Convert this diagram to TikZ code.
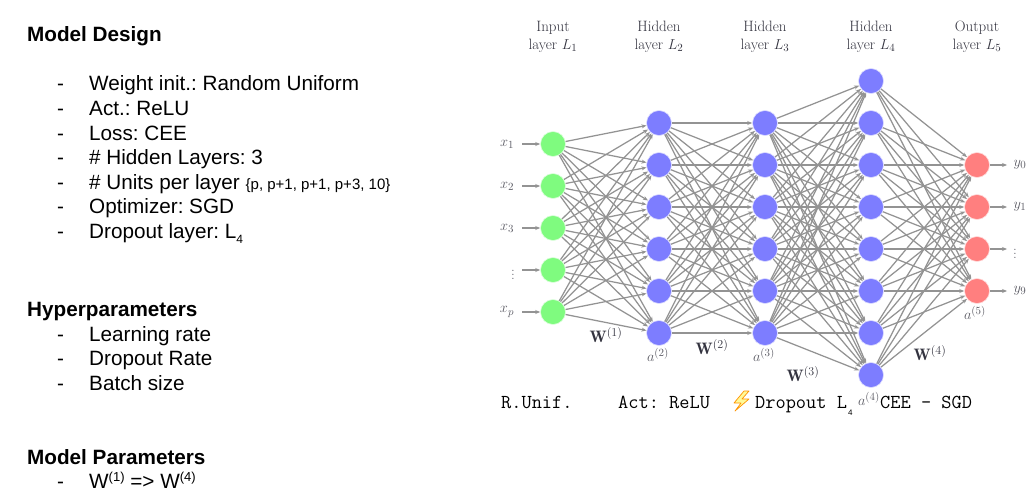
\documentclass[tikz,border=0pt]{standalone}
\usepackage{fontspec}
\usepackage{amsmath}
\usetikzlibrary{arrows.meta}
\newfontfamily\arialf{Liberation Sans}
\AtBeginDocument{\frenchspacing}
\definecolor{nnblue}{HTML}{7D7DFF}
\definecolor{nngreen}{HTML}{7FFB7F}
\definecolor{nnred}{HTML}{FF7F7F}
\definecolor{edgegray}{HTML}{939393}
\definecolor{nntext}{HTML}{33333F}
\tikzset{
  unit/.style={circle,draw=white!75!#1,line width=0.6pt,fill=#1,minimum size=25pt,inner sep=0pt},
  link/.style={draw=edgegray,line width=1.25pt,-{Stealth[length=5pt,width=4pt]}},
  head/.style={anchor=base west,inner sep=0pt,font=\arialf\bfseries\fontsize{20.7}{23}\selectfont},
  item/.style={anchor=base west,inner sep=0pt,font=\arialf\fontsize{20.7}{23}\selectfont},
  nnlabel/.style={inner sep=0pt,text=nntext,font=\fontsize{15}{18}\selectfont,align=center},
  nnmath/.style={inner sep=0pt,text=nntext!80!white,font=\fontsize{15}{18}\selectfont},
  wlabel/.style={inner sep=0pt,text=nntext,font=\fontsize{16.6}{19}\selectfont},
  mono/.style={anchor=base west,inner sep=0pt,font=\ttfamily\fontsize{19.8}{22}\selectfont}
}
\begin{document}
\begin{tikzpicture}[x=1pt,y=-1pt]
\useasboundingbox (0,0) rectangle (1035,498);
% left text
\node[head] (t1) at (27,41) {Model Design};
\foreach \n/\y/\t in {a/90/{Weight init.: Random Uniform},b/115/{Act.: ReLU},c/140/{Loss: CEE},d/164/{\# Hidden Layers: 3},f/213/{Optimizer: SGD}}{
  \node[item] (d\n) at (57,\y) {-};
  \node[item] (i\n) at (89,\y) {\t};
}
\node[item] (de) at (57,189) {-};
\node[item] (ie) at (89,189) {\# Units per layer {\fontsize{15}{17}\selectfont\{p, p+1, p+1, p+3, 10\}}};
\node[item] (dg) at (57,238) {-};
\node[item] (ig) at (89,238) {Dropout layer: L\raisebox{-5pt}{\fontsize{12}{14}\selectfont 4}};
\node[head] (t2) at (27,316) {Hyperparameters};
\foreach \n/\y/\t in {h/341/{Learning rate},j/365/{Dropout Rate},k/390/{Batch size}}{
  \node[item] (d\n) at (57,\y) {-};
  \node[item] (i\n) at (89,\y) {\t};
}
\node[head] (t3) at (27,464) {Model Parameters};
\node[item] (dm) at (57,488) {-};
\node[item] (im) at (89,488) {W\raisebox{7pt}{\fontsize{13}{15}\selectfont (1)} => W\raisebox{7pt}{\fontsize{13}{15}\selectfont (4)}};
% headers
\node[nnlabel] (h1) at (553,37) {Input\\layer $L_1$};
\node[nnlabel] (h2) at (659,37) {Hidden\\layer $L_2$};
\node[nnlabel] (h3) at (765,37) {Hidden\\layer $L_3$};
\node[nnlabel] (h4) at (871,37) {Hidden\\layer $L_4$};
\node[nnlabel] (h5) at (977,37) {Output\\layer $L_5$};
% units
\foreach \i/\y in {1/144,2/186,3/228,4/270,5/312} \node[unit=nngreen] (A\i) at (553,\y) {};
\foreach \i/\y in {1/123,2/165,3/207,4/249,5/291,6/333} {
  \node[unit=nnblue] (B\i) at (659,\y) {};
  \node[unit=nnblue] (C\i) at (765,\y) {};
}
\foreach \i/\y in {1/81,2/123,3/165,4/207,5/249,6/291,7/333,8/375} \node[unit=nnblue] (D\i) at (871,\y) {};
\foreach \i/\y in {1/165,2/207,3/249,4/291} \node[unit=nnred] (E\i) at (977,\y) {};
% links
\foreach \i in {1,...,5} \foreach \j in {1,...,6} \draw[link] (A\i) -- (B\j);
\foreach \i in {1,...,6} \foreach \j in {1,...,6} \draw[link] (B\i) -- (C\j);
\foreach \i in {1,...,6} \foreach \j in {1,...,8} \draw[link] (C\i) -- (D\j);
\foreach \i in {1,...,8} \foreach \j in {1,...,4} \draw[link] (D\i) -- (E\j);
% inputs
\foreach \i/\y/\t in {1/144/x_1,2/186/x_2,3/228/x_3,5/312/x_p}{
  \node[nnmath] (x\i) at (507,\y) {$\t$};
  \coordinate (xs\i) at (522,\y);
  \draw[link] (xs\i) -- (A\i);
}
\node[nnmath] (x4) at (513,272) {$\vdots$};
\coordinate (xs4) at (522,270);
\draw[link] (xs4) -- (A4);
% outputs
\foreach \i/\y/\t in {1/165/y_0,2/207/y_1,4/291/y_9}{
  \node[nnmath] (y\i) at (1020,\y) {$\t$};
  \coordinate (ye\i) at (1007,\y);
  \draw[link] (E\i) -- (ye\i);
}
\node[nnmath] (y3) at (1015,251) {$\vdots$};
\coordinate (ye3) at (1007,249);
\draw[link] (E3) -- (ye3);
% annotations
\node[nnmath] (a2) at (658,355) {$a^{(2)}$};
\node[nnmath] (a3) at (764,355) {$a^{(3)}$};
\node[nnmath] (a4) at (869,399) {$a^{(4)}$};
\node[nnmath] (a5) at (975,313) {$a^{(5)}$};
\node[wlabel] (w1) at (606,335) {$\mathbf{W}^{(1)}$};
\node[wlabel] (w2) at (712,347) {$\mathbf{W}^{(2)}$};
\node[wlabel] (w3) at (803,374) {$\mathbf{W}^{(3)}$};
\node[wlabel] (w4) at (930,353) {$\mathbf{W}^{(4)}$};
% bottom line
\node[mono] (m1) at (501,408) {R.Unif.};
\node[mono] (m2) at (618,408) {Act: ReLU};
\node[mono] (m3) at (755,408) {Dropout L};
\node[inner sep=0pt,anchor=base west,font=\arialf\fontsize{8}{9}\selectfont] (m4) at (848,415) {4};
\node[mono] (m5) at (880,408) {CEE - SGD};
\filldraw[draw=orange!85!yellow,fill=yellow!40!white,line width=0.7pt,line join=round]
  (744,391) -- (734,403) -- (741,403) -- (735,411) -- (749,399) -- (742,399) -- (749,391) -- cycle;
\end{tikzpicture}
\end{document}
